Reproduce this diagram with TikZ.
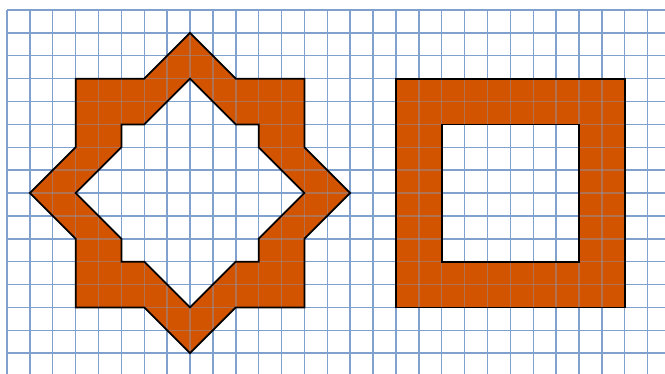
\documentclass[tikz,border=0pt]{standalone}
\usetikzlibrary{calc}
\definecolor{gridblue}{RGB}{128,160,206}
\definecolor{pumpkin}{RGB}{211,84,0}
\tikzset{
  gridline/.style={draw=gridblue, line width=0.9pt},
  shapeedge/.style={draw=black, line width=1.1pt, line join=miter},
  shapefill/.style={fill=pumpkin, even odd rule}
}
\begin{document}
\begin{tikzpicture}[x=0.5cm,y=-0.5cm]
\useasboundingbox (-0.306,-0.437) rectangle (28.759,15.867);
\clip (-0.306,-0.437) rectangle (28.759,15.867);
% grid
\foreach \i in {0,...,29} \draw[gridline] (\i,0) -- (\i,16);
\foreach \j in {0,...,16} \draw[gridline] (0,\j) -- (29,\j);
% star ring
\def\outerstar{(8,1) -- (10,3) -- (13,3) -- (13,6) -- (15,8) -- (13,10) -- (13,13) -- (10,13) -- (8,15) -- (6,13) -- (3,13) -- (3,10) -- (1,8) -- (3,6) -- (3,3) -- (6,3) -- cycle}
\def\innerstar{(8,3) -- (10,5) -- (11,5) -- (11,6) -- (13,8) -- (11,10) -- (11,11) -- (10,11) -- (8,13) -- (6,11) -- (5,11) -- (5,10) -- (3,8) -- (5,6) -- (5,5) -- (6,5) -- cycle}
\def\outersq{(17,3) rectangle (27,13)}
\def\innersq{(19,5) rectangle (25,11)}
\path[shapefill] \outerstar \innerstar;
\path[shapefill] \outersq \innersq;
% grid visible through the fill
\begin{scope}
\clip \outerstar;
\foreach \i in {0,...,29} \draw[gridline, opacity=0.4] (\i,0) -- (\i,16);
\foreach \j in {0,...,16} \draw[gridline, opacity=0.4] (0,\j) -- (29,\j);
\end{scope}
\begin{scope}
\clip \outersq;
\foreach \i in {0,...,29} \draw[gridline, opacity=0.4] (\i,0) -- (\i,16);
\foreach \j in {0,...,16} \draw[gridline, opacity=0.4] (0,\j) -- (29,\j);
\end{scope}
\fill[white] \innerstar;
\fill[white] \innersq;
\begin{scope}
\clip \innerstar;
\foreach \i in {0,...,29} \draw[gridline] (\i,0) -- (\i,16);
\foreach \j in {0,...,16} \draw[gridline] (0,\j) -- (29,\j);
\end{scope}
\begin{scope}
\clip \innersq;
\foreach \i in {0,...,29} \draw[gridline] (\i,0) -- (\i,16);
\foreach \j in {0,...,16} \draw[gridline] (0,\j) -- (29,\j);
\end{scope}
% outlines
\draw[shapeedge] \outerstar;
\draw[shapeedge] \innerstar;
\draw[shapeedge] \outersq;
\draw[shapeedge] \innersq;
\end{tikzpicture}
\end{document}
